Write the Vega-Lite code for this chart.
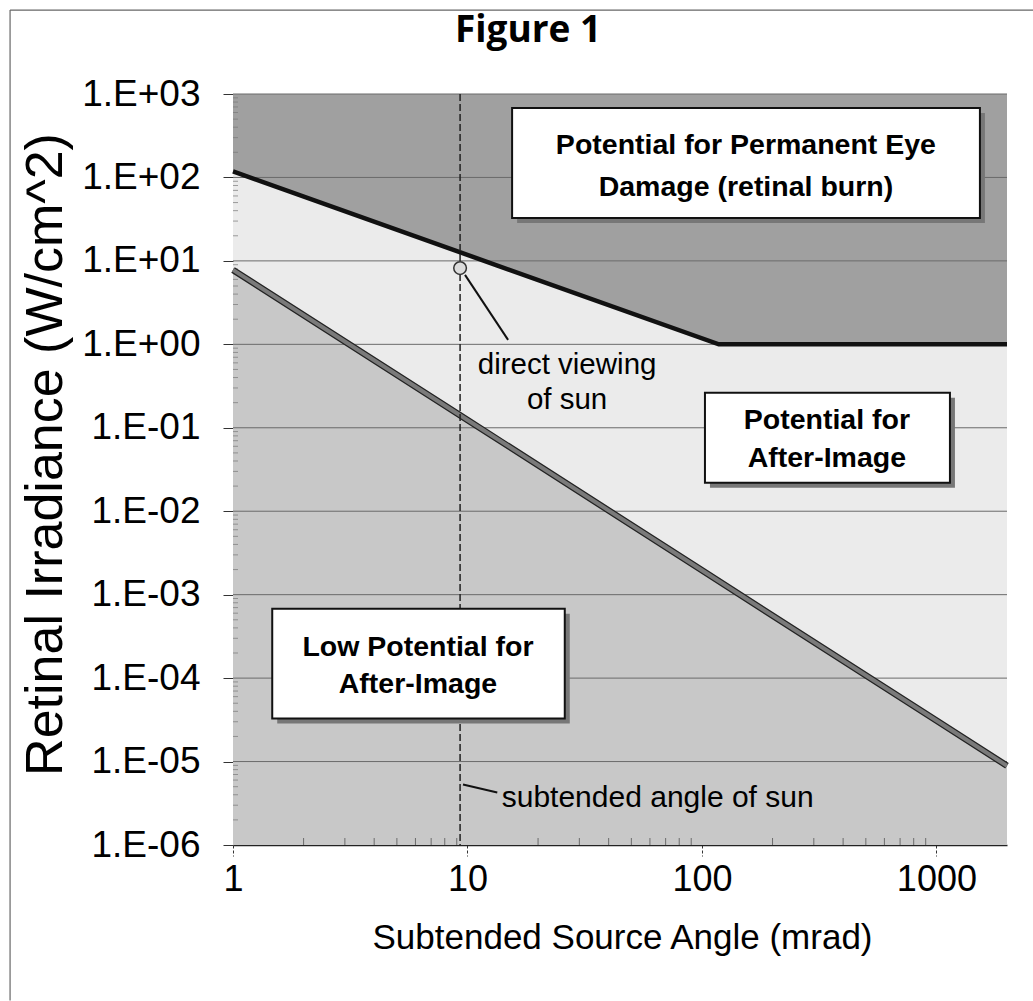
{
  "$schema": "https://vega.github.io/schema/vega-lite/v6.json",
  "autosize": "none",
  "width": 774,
  "height": 751,
  "padding": {"left": 233, "top": 94, "right": 26, "bottom": 156},
  "background": "white",
  "title": {"text": "Figure 1", "font": "Open Sans", "fontSize": 37, "fontWeight": "bold", "color": "#000", "anchor": "middle", "frame": "group", "dx": -92, "baseline": "alphabetic", "offset": -70},
  "datasets": {
    "upper": [{"x": 1, "y": 118}, {"x": 118, "y": 1}, {"x": 2000, "y": 1}],
    "lower": [{"x": 1, "y": 7.8}, {"x": 10, "y": 0.124}, {"x": 100, "y": 0.00196}, {"x": 1000, "y": 0.000031}, {"x": 2000, "y": 0.0000089}],
    "grid": [{"v": 0.00001}, {"v": 0.0001}, {"v": 0.001}, {"v": 0.01}, {"v": 0.1}, {"v": 1}, {"v": 10}, {"v": 100}, {"v": 1000}],
    "xminor": [{"v": 2}, {"v": 3}, {"v": 4}, {"v": 5}, {"v": 6}, {"v": 7}, {"v": 8}, {"v": 9}, {"v": 20}, {"v": 30}, {"v": 40}, {"v": 50}, {"v": 60}, {"v": 70}, {"v": 80}, {"v": 90}, {"v": 200}, {"v": 300}, {"v": 400}, {"v": 500}, {"v": 600}, {"v": 700}, {"v": 800}, {"v": 900}],
    "yminor": [
      {"v": 2e-6}, {"v": 3e-6}, {"v": 4e-6}, {"v": 5e-6}, {"v": 6e-6}, {"v": 7e-6}, {"v": 8e-6}, {"v": 9e-6},
      {"v": 2e-5}, {"v": 3e-5}, {"v": 4e-5}, {"v": 5e-5}, {"v": 6e-5}, {"v": 7e-5}, {"v": 8e-5}, {"v": 9e-5},
      {"v": 2e-4}, {"v": 3e-4}, {"v": 4e-4}, {"v": 5e-4}, {"v": 6e-4}, {"v": 7e-4}, {"v": 8e-4}, {"v": 9e-4},
      {"v": 0.002}, {"v": 0.003}, {"v": 0.004}, {"v": 0.005}, {"v": 0.006}, {"v": 0.007}, {"v": 0.008}, {"v": 0.009},
      {"v": 0.02}, {"v": 0.03}, {"v": 0.04}, {"v": 0.05}, {"v": 0.06}, {"v": 0.07}, {"v": 0.08}, {"v": 0.09},
      {"v": 0.2}, {"v": 0.3}, {"v": 0.4}, {"v": 0.5}, {"v": 0.6}, {"v": 0.7}, {"v": 0.8}, {"v": 0.9},
      {"v": 2}, {"v": 3}, {"v": 4}, {"v": 5}, {"v": 6}, {"v": 7}, {"v": 8}, {"v": 9},
      {"v": 20}, {"v": 30}, {"v": 40}, {"v": 50}, {"v": 60}, {"v": 70}, {"v": 80}, {"v": 90},
      {"v": 200}, {"v": 300}, {"v": 400}, {"v": 500}, {"v": 600}, {"v": 700}, {"v": 800}, {"v": 900}
    ],
    "sun": [{"x": 9.3, "y": 8.2}],
    "callouts": [{"x": 9.76, "y": 6.8, "x2": 14.9, "y2": 1.13}, {"x": 9.57, "y": 0.0000053, "x2": 13.4, "y2": 0.00000426}],
    "boxes": [
      {"x": 15.5, "x2": 1533, "y": 680, "y2": 32.7},
      {"x": 103, "x2": 1142, "y": 0.262, "y2": 0.0219},
      {"x": 1.47, "x2": 26.0, "y": 0.00068, "y2": 0.0000327}
    ],
    "boxtext": [
      {"x": 154, "y": 245, "text": "Potential for Permanent Eye"},
      {"x": 154, "y": 77, "text": "Damage (retinal burn)"},
      {"x": 341, "y": 0.125, "text": "Potential for"},
      {"x": 341, "y": 0.0438, "text": "After-Image"},
      {"x": 6.15, "y": 0.000238, "text": "Low Potential for"},
      {"x": 6.15, "y": 0.000084, "text": "After-Image"}
    ],
    "notes": [
      {"x": 26.6, "y": 0.568, "text": "direct viewing"},
      {"x": 26.6, "y": 0.216, "text": "of sun"}
    ],
    "notes2": [
      {"x": 14.0, "y": 0.0000037, "text": "subtended angle of sun"}
    ]
  },
  "config": {
    "view": {"stroke": null, "fill": "#ebebeb"}
  },
  "layer": [
    {
      "data": {"name": "upper"},
      "mark": {"type": "area", "color": "#a0a0a0"},
      "encoding": {
        "x": {"field": "x", "type": "quantitative", "scale": {"type": "log", "domain": [1, 2000], "nice": false},
          "axis": {"values": [1, 10, 100, 1000], "format": "d", "grid": false, "domain": true, "domainColor": "#222", "domainWidth": 1.5,
            "tickSize": 11, "tickColor": "#333", "tickDash": [3, 2], "tickWidth": 1, "labelFlush": false,
            "labelFont": "Liberation Sans", "labelFontSize": 36, "labelColor": "#000", "labelPadding": 6,
            "title": "Subtended Source Angle (mrad)", "titleFont": "Liberation Sans", "titleFontSize": 35, "titleFontWeight": "normal", "titleColor": "#000",
            "titleX": 389, "titleY": 92, "titleBaseline": "middle", "titleAlign": "center"}},
        "y": {"field": "y", "type": "quantitative", "scale": {"type": "log", "domain": [0.000001, 1000], "nice": false},
          "axis": {"values": [0.000001, 0.00001, 0.0001, 0.001, 0.01, 0.1, 1, 10, 100, 1000],
            "labelExpr": "'1.E' + (datum.value >= 1 ? '+' : '-') + '0' + abs(round(log(datum.value) / LN10))",
            "grid": false, "domain": false, "tickSize": 10, "tickColor": "#333", "tickWidth": 1, "labelFlush": false,
            "labelFont": "Liberation Sans", "labelFontSize": 37, "labelColor": "#000", "labelPadding": 23,
            "title": "Retinal Irradiance (W/cm^2)", "titleFont": "Liberation Sans", "titleFontSize": 52, "titleFontWeight": "normal", "titleColor": "#000",
            "titleX": -188, "titleY": 360, "titleAngle": -90, "titleBaseline": "middle", "titleAlign": "center"}},
        "y2": {"datum": 1000}
      }
    },
    {
      "data": {"name": "lower"},
      "mark": {"type": "area", "color": "#c8c8c8"},
      "encoding": {
        "x": {"field": "x", "type": "quantitative", "scale": {"type": "log", "domain": [1, 2000], "nice": false}},
        "y": {"field": "y", "type": "quantitative", "scale": {"type": "log", "domain": [0.000001, 1000], "nice": false}},
        "y2": {"datum": 0.000001}
      }
    },
    {
      "data": {"name": "grid"},
      "mark": {"type": "rule", "color": "#6a6a6a", "strokeWidth": 1},
      "encoding": {
        "y": {"field": "v", "type": "quantitative", "scale": {"type": "log", "domain": [0.000001, 1000], "nice": false}}
      }
    },
    {
      "data": {"name": "xminor"},
      "mark": {"type": "tick", "orient": "vertical", "size": 14, "thickness": 1, "color": "#444", "clip": true},
      "encoding": {
        "x": {"field": "v", "type": "quantitative", "scale": {"type": "log", "domain": [1, 2000], "nice": false}},
        "y": {"datum": 0.000001, "scale": {"type": "log", "domain": [0.000001, 1000], "nice": false}}
      }
    },
    {
      "data": {"name": "yminor"},
      "mark": {"type": "tick", "orient": "horizontal", "size": 10, "thickness": 1, "color": "#777", "clip": true},
      "encoding": {
        "x": {"datum": 1, "scale": {"type": "log", "domain": [1, 2000], "nice": false}},
        "y": {"field": "v", "type": "quantitative", "scale": {"type": "log", "domain": [0.000001, 1000], "nice": false}}
      }
    },
    {
      "data": {"name": "upper"},
      "mark": {"type": "line", "color": "#111", "strokeWidth": 4.5},
      "encoding": {
        "x": {"field": "x", "type": "quantitative", "scale": {"type": "log", "domain": [1, 2000], "nice": false}},
        "y": {"field": "y", "type": "quantitative", "scale": {"type": "log", "domain": [0.000001, 1000], "nice": false}}
      }
    },
    {
      "data": {"name": "lower"},
      "mark": {"type": "line", "color": "#222", "strokeWidth": 6.5},
      "encoding": {
        "x": {"field": "x", "type": "quantitative", "scale": {"type": "log", "domain": [1, 2000], "nice": false}},
        "y": {"field": "y", "type": "quantitative", "scale": {"type": "log", "domain": [0.000001, 1000], "nice": false}}
      }
    },
    {
      "data": {"name": "lower"},
      "mark": {"type": "line", "color": "#7a7a7a", "strokeWidth": 4},
      "encoding": {
        "x": {"field": "x", "type": "quantitative", "scale": {"type": "log", "domain": [1, 2000], "nice": false}},
        "y": {"field": "y", "type": "quantitative", "scale": {"type": "log", "domain": [0.000001, 1000], "nice": false}}
      }
    },
    {
      "data": {"name": "sun"},
      "mark": {"type": "rule", "color": "#222", "strokeWidth": 1.5, "strokeDash": [7, 3]},
      "encoding": {
        "x": {"field": "x", "type": "quantitative", "scale": {"type": "log", "domain": [1, 2000], "nice": false}}
      }
    },
    {
      "data": {"name": "callouts"},
      "mark": {"type": "rule", "color": "#111", "strokeWidth": 2},
      "encoding": {
        "x": {"field": "x", "type": "quantitative", "scale": {"type": "log", "domain": [1, 2000], "nice": false}},
        "y": {"field": "y", "type": "quantitative", "scale": {"type": "log", "domain": [0.000001, 1000], "nice": false}},
        "x2": {"field": "x2"},
        "y2": {"field": "y2"}
      }
    },
    {
      "data": {"name": "sun"},
      "mark": {"type": "point", "filled": true, "fill": "#dcdcdc", "stroke": "#333", "strokeWidth": 1.5, "size": 160, "opacity": 1},
      "encoding": {
        "x": {"field": "x", "type": "quantitative", "scale": {"type": "log", "domain": [1, 2000], "nice": false}},
        "y": {"field": "y", "type": "quantitative", "scale": {"type": "log", "domain": [0.000001, 1000], "nice": false}}
      }
    },
    {
      "data": {"name": "boxes"},
      "mark": {"type": "rect", "color": "#777", "xOffset": 5, "x2Offset": 5, "yOffset": 5, "y2Offset": 5},
      "encoding": {
        "x": {"field": "x", "type": "quantitative", "scale": {"type": "log", "domain": [1, 2000], "nice": false}},
        "y": {"field": "y", "type": "quantitative", "scale": {"type": "log", "domain": [0.000001, 1000], "nice": false}},
        "x2": {"field": "x2"},
        "y2": {"field": "y2"}
      }
    },
    {
      "data": {"name": "boxes"},
      "mark": {"type": "rect", "fill": "white", "stroke": "#111", "strokeWidth": 2},
      "encoding": {
        "x": {"field": "x", "type": "quantitative", "scale": {"type": "log", "domain": [1, 2000], "nice": false}},
        "y": {"field": "y", "type": "quantitative", "scale": {"type": "log", "domain": [0.000001, 1000], "nice": false}},
        "x2": {"field": "x2"},
        "y2": {"field": "y2"}
      }
    },
    {
      "data": {"name": "boxtext"},
      "mark": {"type": "text", "font": "Liberation Sans", "fontWeight": "bold", "fontSize": 28.5, "color": "#000", "align": "center", "baseline": "middle"},
      "encoding": {
        "x": {"field": "x", "type": "quantitative", "scale": {"type": "log", "domain": [1, 2000], "nice": false}},
        "y": {"field": "y", "type": "quantitative", "scale": {"type": "log", "domain": [0.000001, 1000], "nice": false}},
        "text": {"field": "text"}
      }
    },
    {
      "data": {"name": "notes"},
      "mark": {"type": "text", "font": "Liberation Sans", "fontSize": 29.5, "color": "#000", "align": "center", "baseline": "middle"},
      "encoding": {
        "x": {"field": "x", "type": "quantitative", "scale": {"type": "log", "domain": [1, 2000], "nice": false}},
        "y": {"field": "y", "type": "quantitative", "scale": {"type": "log", "domain": [0.000001, 1000], "nice": false}},
        "text": {"field": "text"}
      }
    },
    {
      "data": {"name": "notes2"},
      "mark": {"type": "text", "font": "Liberation Sans", "fontSize": 30, "color": "#000", "align": "left", "baseline": "middle"},
      "encoding": {
        "x": {"field": "x", "type": "quantitative", "scale": {"type": "log", "domain": [1, 2000], "nice": false}},
        "y": {"field": "y", "type": "quantitative", "scale": {"type": "log", "domain": [0.000001, 1000], "nice": false}},
        "text": {"field": "text"}
      }
    },
    {
      "data": {"values": [{"x": 0.112, "y": 1.37e-8, "y2": 10140}]},
      "mark": {"type": "rule", "color": "#666", "strokeWidth": 1.2, "clip": false},
      "encoding": {
        "x": {"field": "x", "type": "quantitative", "scale": {"type": "log", "domain": [1, 2000], "nice": false}},
        "y": {"field": "y", "type": "quantitative", "scale": {"type": "log", "domain": [0.000001, 1000], "nice": false}},
        "y2": {"field": "y2"}
      }
    },
    {
      "data": {"values": [{"x": 0.112, "x2": 2760, "y": 10140}]},
      "mark": {"type": "rule", "color": "#666", "strokeWidth": 1.2, "clip": false},
      "encoding": {
        "x": {"field": "x", "type": "quantitative", "scale": {"type": "log", "domain": [1, 2000], "nice": false}},
        "y": {"field": "y", "type": "quantitative", "scale": {"type": "log", "domain": [0.000001, 1000], "nice": false}},
        "x2": {"field": "x2"}
      }
    }
  ]
}
